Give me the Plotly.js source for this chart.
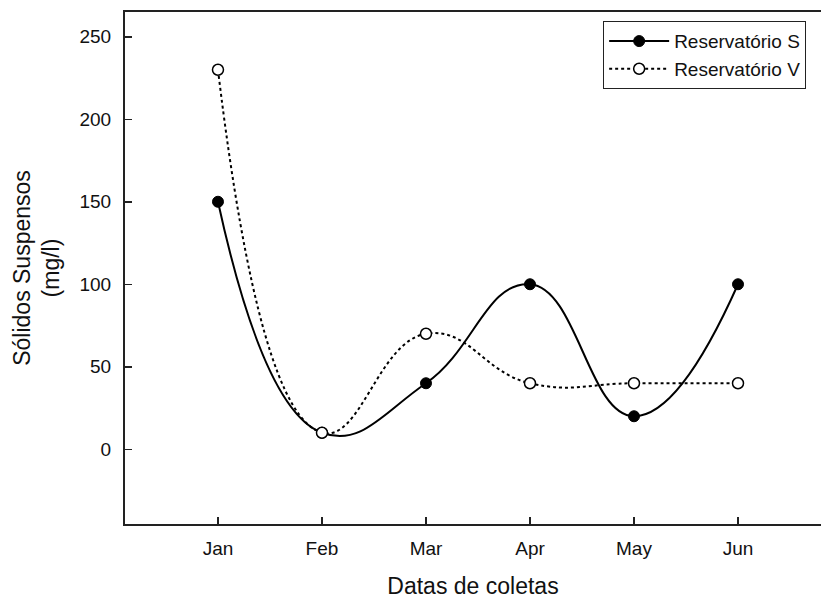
<!DOCTYPE html>
<html>
<head>
<meta charset="utf-8">
<script src="https://cdn.plot.ly/plotly-3.0.1.min.js"></script>
<style>html,body{margin:0;padding:0;background:#fff;}#chart{width:821px;height:599px;}</style>
</head>
<body>
<div id="chart"></div>
<script>
const months = ["Jan", "Feb", "Mar", "Apr", "May", "Jun"];
const reservatorioS = [150, 10, 40, 100, 20, 100];
const reservatorioV = [230, 10, 70, 40, 40, 40];
const yTicks = [0, 50, 100, 150, 200, 250];

const xIdx = months.map((m, i) => i);

const traces = [
  {
    x: xIdx, y: reservatorioS, name: "Reservatório S",
    mode: "lines+markers", type: "scatter",
    line: {color: "#000", width: 2, shape: "spline", smoothing: 1.3},
    marker: {symbol: "circle", size: 11, color: "#000", line: {color: "#000", width: 1}}
  },
  {
    x: xIdx, y: reservatorioV, name: "Reservatório V",
    mode: "lines+markers", type: "scatter",
    line: {color: "#000", width: 2, dash: "dot", shape: "spline", smoothing: 1.3},
    marker: {symbol: "circle", size: 11, color: "#fff", line: {color: "#000", width: 1.5}}
  }
];

const font = "Liberation Sans, Arial, sans-serif";
const layout = {
  width: 821, height: 599,
  margin: {l: 125, r: 0, t: 12, b: 75},
  paper_bgcolor: "#fff", plot_bgcolor: "#fff",
  font: {family: font, size: 19, color: "#111"},
  showlegend: true,
  legend: {
    x: 0.687, y: 0.982, xanchor: "left", yanchor: "top",
    bordercolor: "#222", borderwidth: 1, bgcolor: "#fff",
    font: {family: font, size: 19, color: "#111"},
    tracegroupgap: 0, itemwidth: 60
  },
  xaxis: {
    range: [-0.894, 5.798],
    tickvals: xIdx, ticktext: months,
    ticks: "inside", ticklen: 7, tickcolor: "#222", tickwidth: 1.5,
    showline: true, linecolor: "#222", linewidth: 2, mirror: true,
    showgrid: false, zeroline: false,
    ticklabelstandoff: 6,
    tickfont: {family: font, size: 19, color: "#111"},
    title: {text: "Datas de coletas", font: {family: font, size: 23, color: "#111"}, standoff: 23}
  },
  yaxis: {
    range: [-45.3, 265],
    tickvals: yTicks,
    ticks: "inside", ticklen: 7, tickcolor: "#222", tickwidth: 1.5,
    showline: true, linecolor: "#222", linewidth: 2, mirror: false,
    showgrid: false, zeroline: false,
    ticklabelstandoff: 8,
    tickfont: {family: font, size: 19, color: "#111"},
    title: {text: "Sólidos Suspensos<br>(mg/l)", font: {family: font, size: 23, color: "#111"}, standoff: 13}
  }
};

Plotly.newPlot("chart", traces, layout, {displayModeBar: false, staticPlot: true});
</script>
</body>
</html>
